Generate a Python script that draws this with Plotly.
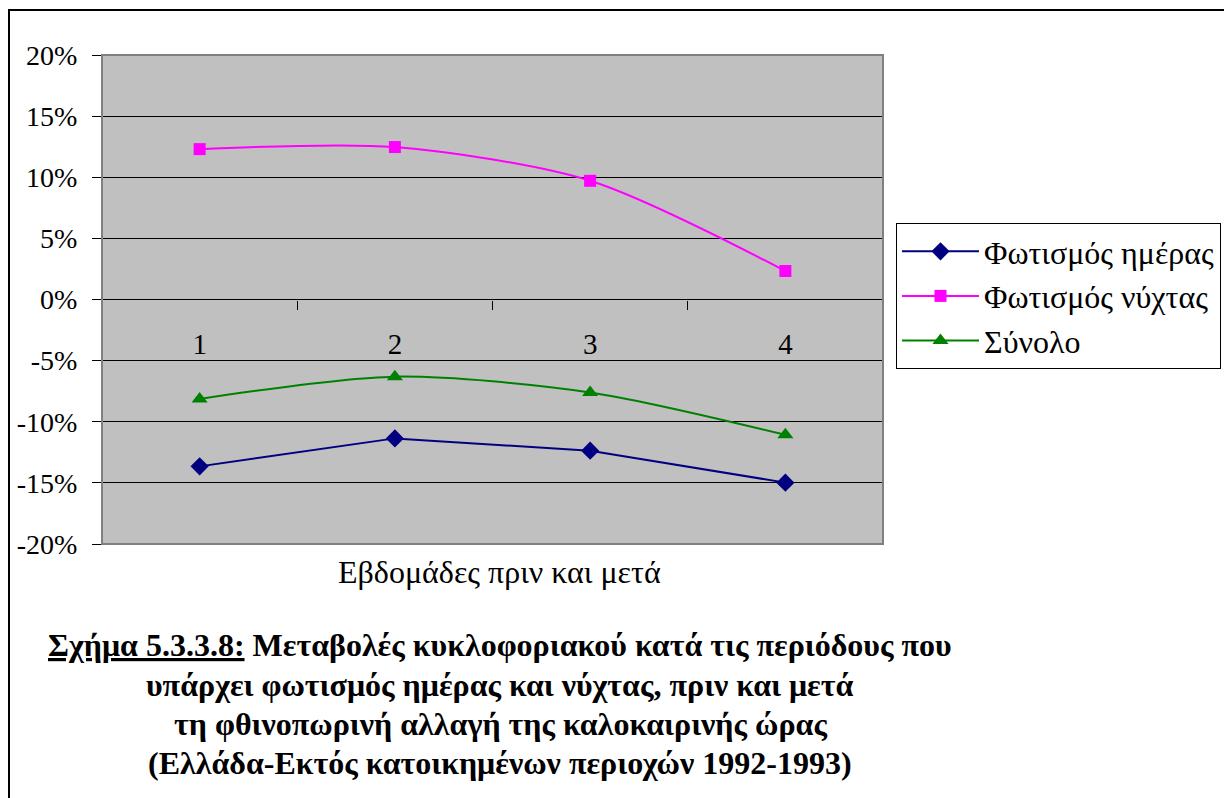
import plotly.graph_objects as go

# Data (percent change)
weeks = ["1", "2", "3", "4"]
daylight = [-13.65, -11.36, -12.37, -14.98]
night = [12.30, 12.47, 9.71, 2.33]
total = [-8.13, -6.31, -7.60, -11.07]
y_ticks = [-20, -15, -10, -5, 0, 5, 10, 15, 20]

FONT = "Liberation Serif"

# page body has an 8px margin, so work in page pixels minus 8
OFF = 8
W, H = 1232 - OFF, 798 - OFF
L, R, T, B = 102 - OFF, 883 - OFF, 55 - OFF, 544 - OFF
pw, ph = R - L, B - T


def px(x):
    return (x - OFF - L) / pw


def py(y):
    return (B - (y - OFF)) / ph


fig = go.Figure()

fig.add_trace(go.Scatter(
    x=weeks, y=daylight, name="Φωτισμός ημέρας", mode="lines+markers",
    legendgroup="a",
    line=dict(color="#000080", width=2),
    marker=dict(symbol="diamond", size=14, color="#000080"),
))
fig.add_trace(go.Scatter(
    x=weeks, y=night, name="Φωτισμός νύχτας", mode="lines+markers",
    legendgroup="b",
    line=dict(color="#FF00FF", width=2, shape="spline", smoothing=0.8),
    marker=dict(symbol="square", size=12, color="#FF00FF"),
))
fig.add_trace(go.Scatter(
    x=weeks, y=total, name="Σύνολο", mode="lines+markers",
    legendgroup="c",
    line=dict(color="#008000", width=2, shape="spline", smoothing=0.8),
    marker=dict(symbol="triangle-up", size=14, color="#008000"),
))

fig.update_layout(
    width=W, height=H,
    margin=dict(l=L, r=W - R, t=T, b=H - B, autoexpand=False),
    paper_bgcolor="white", plot_bgcolor="#C0C0C0",
    font=dict(family=FONT, size=28, color="black"),
    legend=dict(
        x=px(896), y=py(223), xanchor="left", yanchor="top",
        bordercolor="black", borderwidth=1, bgcolor="white",
        font=dict(family=FONT, size=32, color="black"),
        tracegroupgap=0, itemwidth=77,
    ),
    showlegend=True,
)

fig.update_xaxes(
    type="category", anchor="free", position=0.5,
    showgrid=False, showline=False, zeroline=False,
    ticks="outside", ticklen=9, tickcolor="black", tickson="boundaries",
    ticklabelstandoff=24, range=[-0.5, 3.5],
    tickfont=dict(family=FONT, size=29, color="black"),
)
fig.update_yaxes(
    range=[-20, 20], tickvals=y_ticks, ticktext=[f"{v}%" for v in y_ticks],
    showgrid=True, gridcolor="black", gridwidth=1,
    zeroline=True, zerolinecolor="black", zerolinewidth=1,
    ticks="outside", ticklen=9, tickcolor="black",
    ticklabelstandoff=9, showline=False,
    tickfont=dict(family=FONT, size=28, color="black"),
)

# plot area border and outer chart frame
fig.add_shape(type="rect", xref="paper", yref="paper", x0=0, x1=1, y0=0, y1=1,
              line=dict(color="#808080", width=2))
fig.add_shape(type="rect", xref="paper", yref="paper",
              x0=px(9), x1=px(1300), y0=py(860), y1=py(10),
              line=dict(color="black", width=2))

fig.add_annotation(text="Εβδομάδες πριν και μετά", xref="paper", yref="paper",
                   x=px(499), y=py(572), xanchor="center", yanchor="middle",
                   showarrow=False, font=dict(family=FONT, size=32, color="black"))

caption = [
    "<u><b>Σχήμα 5.3.3.8:</b></u><b> Μεταβολές κυκλοφοριακού κατά τις περιόδους που</b>",
    "<b>υπάρχει φωτισμός ημέρας και νύχτας, πριν και μετά</b>",
    "<b>τη φθινοπωρινή αλλαγή της καλοκαιρινής ώρας</b>",
    "<b>(Ελλάδα-Εκτός κατοικημένων περιοχών 1992-1993)</b>",
]
for line, yc in zip(caption, [645, 685, 724, 763]):
    fig.add_annotation(text=line, xref="paper", yref="paper",
                       x=px(500), y=py(yc), xanchor="center", yanchor="middle",
                       showarrow=False, font=dict(family=FONT, size=32, color="black"))

fig.write_html("out.html")
